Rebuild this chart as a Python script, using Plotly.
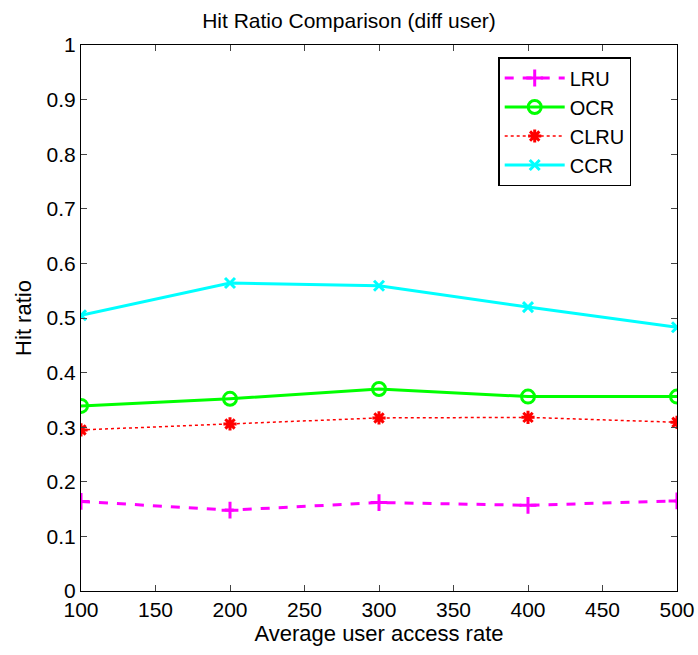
import plotly.graph_objects as go

x_rates = [100, 200, 300, 400, 500]
lru = [0.164, 0.148, 0.162, 0.157, 0.165]
ocr = [0.339, 0.352, 0.370, 0.356, 0.356]
clru = [0.295, 0.306, 0.317, 0.318, 0.309]
ccr = [0.505, 0.564, 0.559, 0.520, 0.483]

series = [
    ("LRU", lru, "#FF00FF", "dash", 3, "cross-thin-open", 12),
    ("OCR", ocr, "#00FF00", "solid", 3, "circle-open", 13),
    ("CLRU", clru, "#FF0000", "dot", 1.5, "asterisk-open", 11),
    ("CCR", ccr, "#00FFFF", "solid", 3, "x-thin-open", 10),
]

fig = go.Figure()
for name, vals, color, dash, lw, sym, ms in series:
    fig.add_trace(go.Scatter(
        x=x_rates, y=vals, name=name, mode="lines+markers",
        line=dict(color=color, dash=dash, width=lw),
        marker=dict(symbol=sym, size=ms, color=color,
                    line=dict(color=color, width=3)),
    ))

font = "Liberation Sans, Arial, sans-serif"
fig.update_layout(
    width=698, height=655,
    margin=dict(l=81, r=21, t=45, b=64, autoexpand=False),
    paper_bgcolor="white", plot_bgcolor="white",
    font=dict(family=font, size=19, color="black"),
    title=dict(text="Hit Ratio Comparison (diff user)", x=0.5, xanchor="center",
               y=0.969, yanchor="middle",
               font=dict(family=font, size=21, color="black")),
    showlegend=True,
    legend=dict(x=0.70, y=0.978, xanchor="left", yanchor="top",
                bordercolor="black", borderwidth=1.5, bgcolor="white",
                font=dict(family=font, size=20, color="black"),
                tracegroupgap=0, itemwidth=60),
    xaxis=dict(range=[100, 500], dtick=50, tick0=100, ticks="inside", ticklen=6,
               mirror="ticks", showline=True, linecolor="black", linewidth=1,
               showgrid=False, zeroline=False,
               title=dict(text="Average user access rate", standoff=2,
                          font=dict(family=font, size=22, color="black")),
               tickfont=dict(family=font, size=21, color="black")),
    yaxis=dict(range=[0, 1], dtick=0.1, ticks="inside", ticklen=6,
               mirror="ticks", showline=True, linecolor="black", linewidth=1,
               showgrid=False, zeroline=False,
               title=dict(text="Hit ratio", standoff=8,
                          font=dict(family=font, size=22, color="black")),
               tickfont=dict(family=font, size=21, color="black")),
)

fig.write_html("out.html")
